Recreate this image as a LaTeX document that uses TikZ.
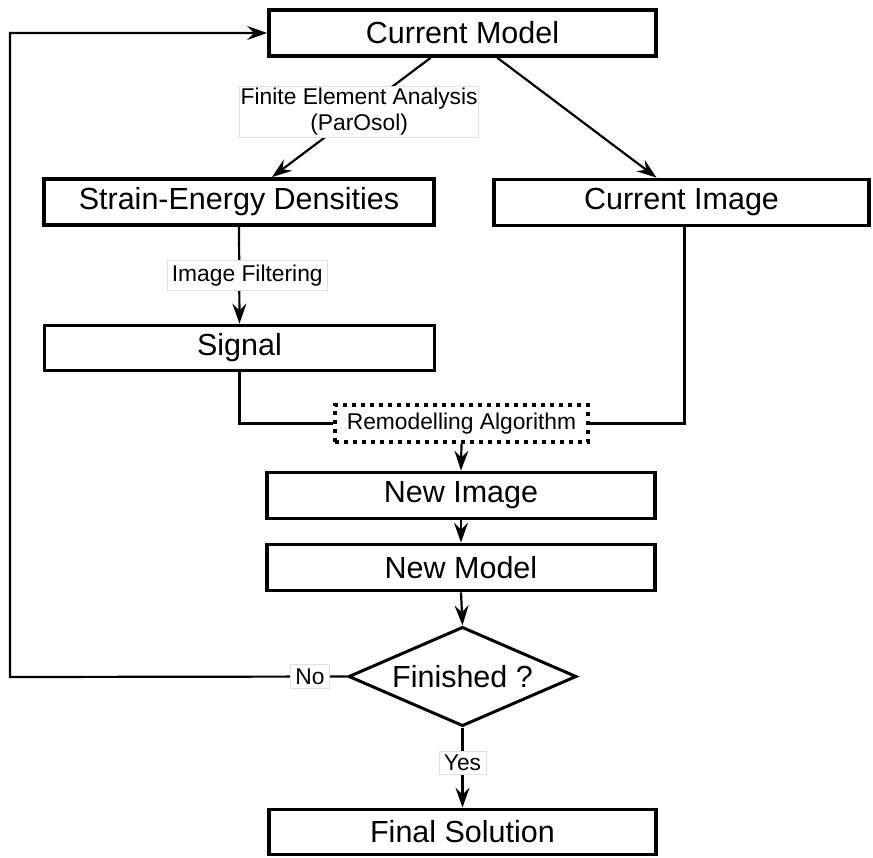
\documentclass[tikz,border=0pt]{standalone}
\usepackage{fontspec}
\setmainfont{Liberation Sans}
\usetikzlibrary{arrows.meta,shapes.geometric}
\begin{document}
\begin{tikzpicture}[x=1pt,y=-1pt,
  box/.style={draw,line width=3.8pt,minimum height=46pt,inner sep=0pt,font=\fontsize{30.5}{36}\selectfont},
  algo/.style={draw,line width=4pt,dash pattern=on 4pt off 5pt,minimum width=253pt,minimum height=37pt,inner sep=0pt,font=\fontsize{22.8}{26}\selectfont},
  decide/.style={draw,diamond,shape aspect=1.83,line width=3pt,minimum width=228pt,inner sep=0pt,font=\fontsize{30.5}{36}\selectfont},
  tag/.style={fill=white,draw=black!12,line width=0.6pt,inner xsep=5pt,inner ysep=4pt,font=\fontsize{22.8}{26}\selectfont},
  flow/.style={line width=2.2pt,-{Stealth[length=20pt,width=14pt,inset=7pt]}},
  link/.style={line width=2.2pt}]
\useasboundingbox (0,0) rectangle (873,857);
 \node[box,minimum width=387pt] (cm) at (462.5,33) {Current Model};
 \node[box,minimum width=390pt] (sed) at (239,202) {Strain-Energy Densities};
 \node[box,minimum width=375pt] (ci) at (681.5,202.5) {Current Image};
 \node[box,minimum width=390pt,minimum height=45pt] (sig) at (239.5,348) {Signal};
 \node[algo] (ra) at (461.5,423.5) {Remodelling Algorithm};
 \node[box,minimum width=388pt] (ni) at (461,495.5) {New Image};
 \node[box,minimum width=388pt] (nm) at (461,567.5) {New Model};
 \node[decide] (fin) at (462.5,676.5) {Finished ?};
 \node[box,minimum width=387pt,minimum height=45pt] (fs) at (462.5,832) {Final Solution};
 \coordinate (back) at (10,677);
    \draw[flow] ([xshift=-32pt]cm.south) -- node[tag,pos=0.45,inner xsep=1pt,inner ysep=2pt,align=center] {Finite Element Analysis\\(ParOsol)} ([xshift=33pt]sed.north);
    \draw[flow] ([xshift=35pt]cm.south) -- ([xshift=-25pt]ci.north);
    \draw[flow] (sed.south) -- node[tag,xshift=8pt] {Image Filtering} (sig.north);
    \draw[link] (sig.south) |- (ra.west);
    \draw[link] ([xshift=3pt]ci.south) |- (ra.east);
    \draw[flow] (ra.south) -- (ni.north);
    \draw[flow] (ni.south) -- (nm.north);
    \draw[flow] (nm.south) -- (fin.north);
    \draw[flow] (fin.south) -- node[tag,pos=0.44] {Yes} (fs.north);
    \draw[flow] (fin.west) -- node[tag,pos=0.11] {No} (back) |- (cm.west);
\end{tikzpicture}
\end{document}
